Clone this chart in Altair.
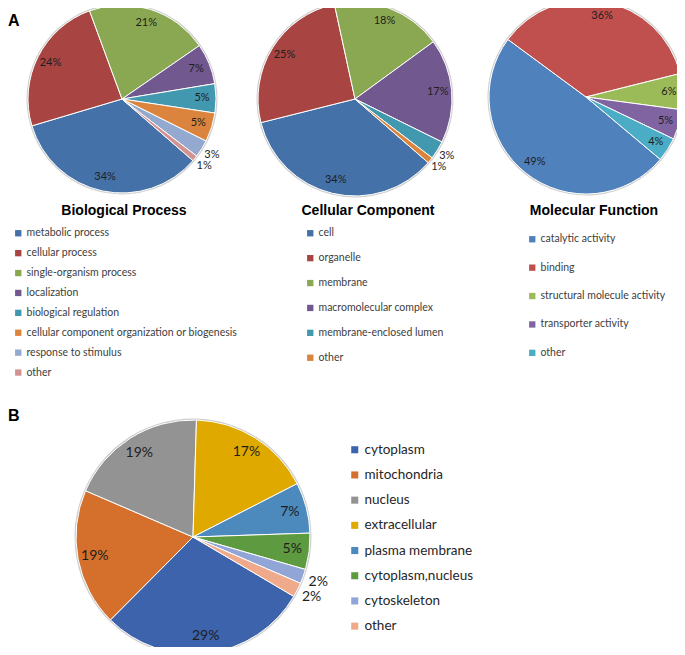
import math
import altair as alt
import pandas as pd

# ---------------- data ----------------
bp_cats = ["metabolic process", "cellular process", "single-organism process", "localization",
           "biological regulation", "cellular component organization or biogenesis",
           "response to stimulus", "other"]
bp_vals = [34, 24, 21, 7, 5, 5, 3, 1]
bp_colors = ["#4471A7", "#A84441", "#8AA851", "#71588F", "#4198AF", "#DB843D", "#93A9CF", "#D19392"]

cc_cats = ["cell", "organelle", "membrane", "macromolecular complex", "membrane-enclosed lumen", "other"]
cc_vals = [34, 25, 18, 17, 3, 1]
cc_colors = ["#4471A7", "#A84441", "#8AA851", "#71588F", "#4198AF", "#DB843D"]

mf_cats = ["catalytic activity", "binding", "structural molecule activity", "transporter activity", "other"]
mf_vals = [49, 36, 6, 5, 4]
mf_colors = ["#4F81BD", "#C0504D", "#9BBB59", "#8064A2", "#4BACC6"]

b_cats = ["cytoplasm", "mitochondria", "nucleus", "extracellular", "plasma membrane",
          "cytoplasm,nucleus", "cytoskeleton", "other"]
b_vals = [29, 19, 19, 17, 7, 5, 2, 2]
b_colors = ["#3C63AC", "#D46F2C", "#939393", "#E0A900", "#4C89BD", "#5E9A3F", "#91A6D6", "#EFAA8C"]

titles = ["Biological Process", "Cellular Component", "Molecular Function"]
panel_letters = ["A", "B"]


def pie(cats, vals, colors, cx, cy, r, start_deg, label_size, r_in, r_out,
        lx, ly, row_pad, leg_font, sym_size, leg_color, lab_off):
    df = pd.DataFrame({"category": cats, "value": vals, "k": list(range(len(cats)))})
    start = math.radians(start_deg)
    theta = alt.Theta("value:Q", stack=True,
                      scale=alt.Scale(range=[start, start + 2 * math.pi]))
    order = alt.Order("k:Q", sort="ascending")
    base = alt.Chart(df)
    rim = base.mark_arc(x=cx, y=cy, outerRadius=r + 1.5, color="#cfcfcf").encode(
        theta=theta, order=order)
    arcs = base.mark_arc(x=cx, y=cy, outerRadius=r, stroke="white", strokeWidth=1).encode(
        theta=theta, order=order,
        color=alt.Color("category:N",
                        scale=alt.Scale(domain=cats, range=colors),
                        legend=alt.Legend(orient="none", legendX=lx, legendY=ly, title=None,
                                          symbolType="square", symbolSize=sym_size,
                                          symbolStrokeWidth=0, labelFont="Lato",
                                          labelFontSize=leg_font, labelColor=leg_color,
                                          labelLimit=400, rowPadding=row_pad,
                                          labelOffset=lab_off)))
    txt_in = base.transform_calculate(
        lab="datum.value < 4 ? '' : datum.value + '%'"
    ).mark_text(x=cx, y=cy, radius=r_in, font="Lato", fontSize=label_size, color="#1e1e1e",
                align="center", baseline="middle").encode(
        theta=theta, order=order, text="lab:N")
    txt_out = base.transform_calculate(
        lab="datum.value < 4 ? datum.value + '%' : ''"
    ).mark_text(x=cx, y=cy, radius=r_out, font="Lato", fontSize=label_size, color="#1e1e1e",
                align="center", baseline="middle").encode(
        theta=theta, order=order, text="lab:N")
    return alt.layer(rim, arcs, txt_in, txt_out)


p1 = pie(bp_cats, bp_vals, bp_colors, 114, 91, 94, 131, 11, 80, 106, 5, 220, 8.9, 10.5, 40, "#404040", 3)
p2 = pie(cc_cats, cc_vals, cc_colors, 347, 91, 97, 131, 11, 83, 108, 297, 220, 13.9, 10.5, 40, "#404040", 3)
p3 = pie(mf_cats, mf_vals, mf_colors, 578, 89, 97, 130, 11, 83, 108, 519, 226, 17.4, 10.5, 40, "#404040", 3)
pb = pie(b_cats, b_vals, b_colors, 185, 529, 117, 120.5, 14, 100, 133, 340, 435, 10.2, 13.5, 50, "#262626", 3)


def label(txt, x, y, size, align="center"):
    return alt.Chart(pd.DataFrame({"t": [txt]})).mark_text(
        x=x, y=y, font="Liberation Sans", fontWeight="bold", fontSize=size,
        align=align, baseline="middle", color="black").encode(text="t:N")


t1 = label(titles[0], 116, 203, 14)
t2 = label(titles[1], 360, 203, 14)
t3 = label(titles[2], 586, 203, 14)
la = label(panel_letters[0], 0, 13, 16, "left")
lb = label(panel_letters[1], 0, 408, 16, "left")

chart = alt.layer(p1, p2, p3, pb, t1, t2, t3, la, lb).resolve_scale(
    theta="independent", color="independent"
).properties(width=669, height=639, autosize="none", padding=0).configure_view(stroke=None)

chart.save("out.html", embed_options={"renderer": "svg", "actions": False})
